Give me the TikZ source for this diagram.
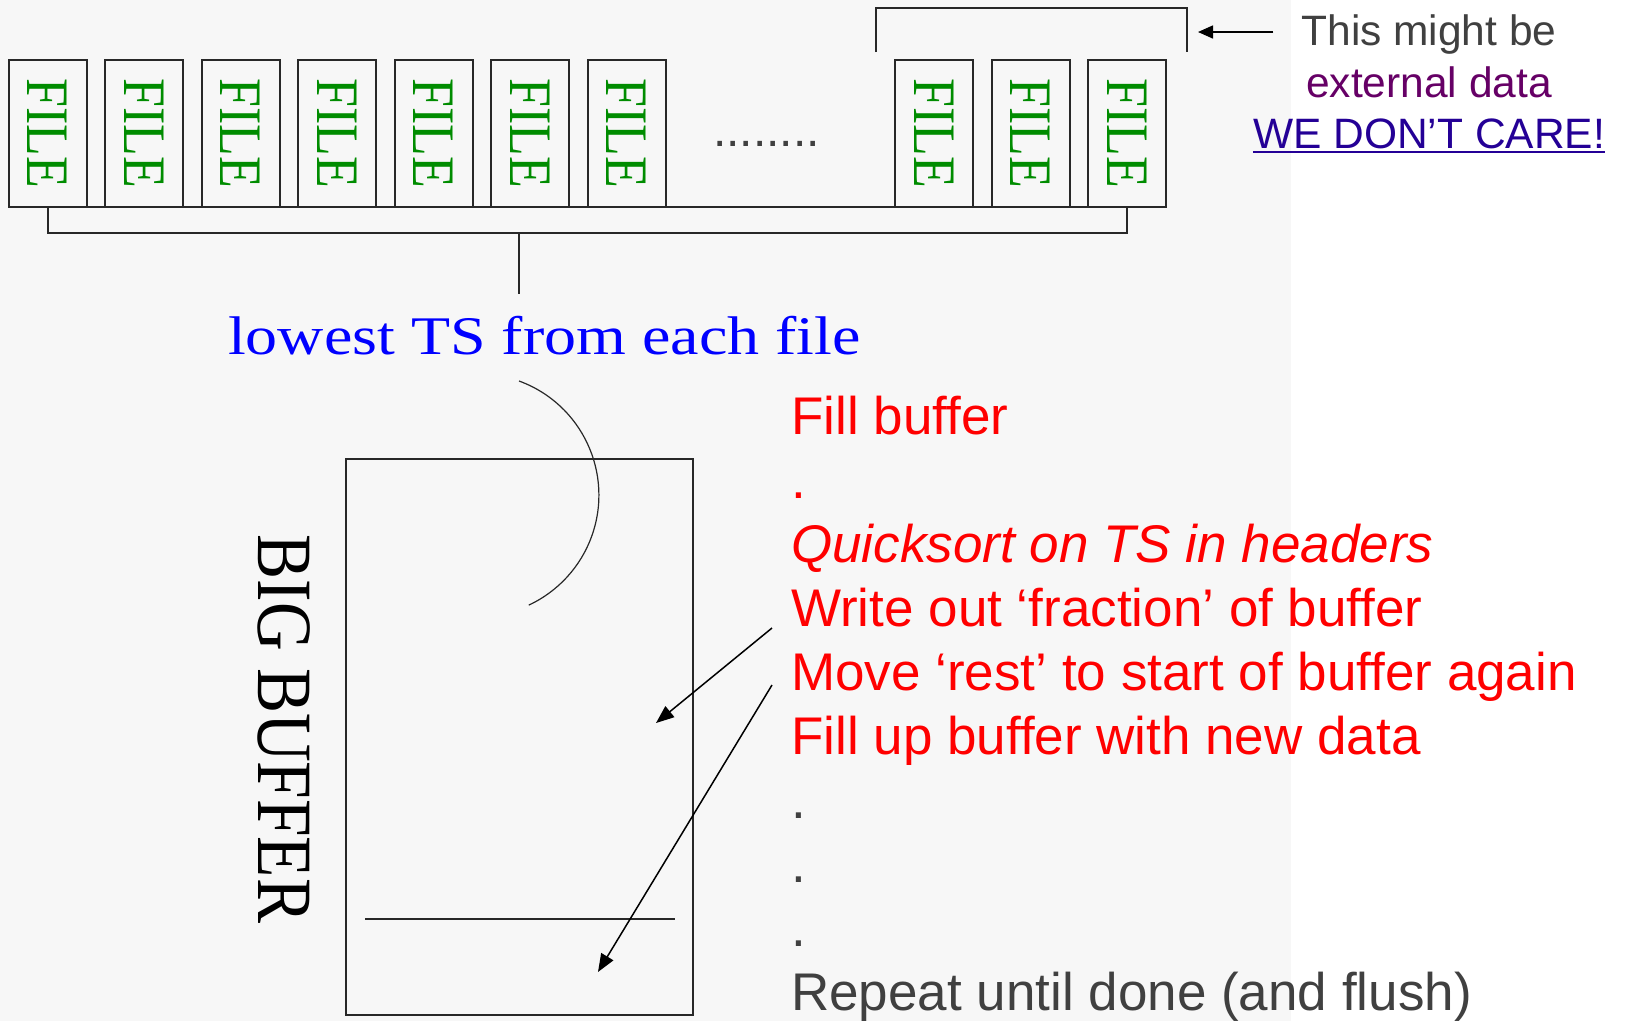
\documentclass[tikz,border=0pt]{standalone}
\usepackage{fontspec}
\setmainfont{Liberation Sans}
\newfontfamily\seriffont{Liberation Serif}
\usepackage{graphicx}
\usetikzlibrary{positioning,arrows.meta}

\definecolor{slidebg}{RGB}{247,247,247}
\definecolor{filegreen}{RGB}{0,140,0}
\definecolor{darktext}{RGB}{64,64,64}
\definecolor{extpurple}{RGB}{102,0,102}
\definecolor{careblue}{RGB}{36,0,150}
\definecolor{outline}{RGB}{40,40,40}

\newcommand{\filetext}{\rotatebox{-90}{\scalebox{1}[1.16]{FILE}}}

\tikzset{
  filebox/.style={draw=outline, line width=2pt, minimum width=78pt, minimum height=147pt,
    inner sep=0pt, outer sep=0pt, text=filegreen, font=\seriffont\fontsize{52}{52}\selectfont},
  bracket/.style={draw=outline, line width=2pt},
  pointer/.style={draw=black, line width=1.5pt, -{Triangle[length=18pt,width=14pt]}},
  stepline/.style={anchor=base west, inner sep=0pt, text=red, font=\fontsize{53}{64}\selectfont},
  note/.style={anchor=base, inner sep=0pt, font=\fontsize{42.5}{50}\selectfont},
}

\begin{document}
\begin{tikzpicture}[x=1pt, y=-1pt]
  \useasboundingbox (0,0) rectangle (1625,1021);
  \fill[white] (0,0) rectangle (1625,1021);
  \fill[slidebg] (0,0) rectangle (1291,1021);

  % the files
  \node[filebox] (file1) at (47.7,133.5) {\filetext};
  \foreach \i [evaluate=\i as \j using int(\i-1)] in {2,...,7}
    \node[filebox, right=18.5pt of file\j] (file\i) {\filetext};
  \node[darktext, anchor=base, inner sep=0pt, font=\fontsize{48}{48}\selectfont] (dots) at (766.5,146.5) {........};
  \node[filebox] (file8) at (934,133.5) {\filetext};
  \node[filebox, right=18.5pt of file8] (file9) {\filetext};
  \node[filebox, right=18.5pt of file9] (file10) {\filetext};

  \draw[bracket] (file1.south west) -- (file10.south east);
  \draw[bracket] (file1.south) -- ++(0,26) -| (file10.south);
  \coordinate (merge) at (519,233);
  \coordinate (mergeend) at (519,294);
  \draw[bracket] (merge) -- (mergeend);

  % external data
  \coordinate (extL) at (876,52);
  \coordinate (extR) at (1187,52);
  \draw[bracket] (extL) |- (1187,8) -- (extR);
  \node[note, text=darktext] (this) at (1429,45) {This might be};
  \node[note, text=extpurple] (external) at (1429,97) {external data};
  \node[note, text=careblue] (care) at (1429,148) {WE DON’T CARE!};
  \draw[careblue, line width=2.5pt] ([yshift=-4pt]care.base west) -- ([yshift=-4pt]care.base east);
  \coordinate (exttip) at (1198,32);
  \draw[pointer, -{Triangle[length=15pt,width=13pt]}] ([xshift=-28pt]this.west |- exttip) -- (exttip);

  % buffer
  \node[blue, anchor=base, inner sep=0pt, font=\seriffont\fontsize{64}{64}\selectfont] (lowest)
    at (544.5,354) {\scalebox{1}[0.85]{lowest TS from each file}};
  \node[draw=outline, line width=2pt, minimum width=347pt, minimum height=556pt,
    inner sep=0pt, outer sep=0pt] (buffer) at (519.5,737) {};
  \node[rotate=-90, inner sep=0pt, font=\seriffont\fontsize{67.5}{67.5}\selectfont] (biglabel)
    at (284,729) {\scalebox{1}[1.16]{BIG BUFFER}};
  \draw[outline, line width=2pt] (365,919) -- (675,919);
  \coordinate (arcA) at (519,381);
  \draw[outline, line width=1.2pt] (arcA) arc[start angle=70, end angle=-65, radius=121.4pt];

  % steps
  \node[stepline] (fill) at (791,434) {Fill buffer};
  \node[stepline] (dotA) at (791,498) {.};
  \node[stepline, font=\fontsize{53}{64}\selectfont\itshape] (sort) at (791,562) {Quicksort on TS in headers};
  \node[stepline] (write) at (791,626) {Write out ‘fraction’ of buffer};
  \node[stepline] (move) at (791,690) {Move ‘rest’ to start of buffer again};
  \node[stepline] (refill) at (791,754) {Fill up buffer with new data};
  \node[stepline, text=darktext] (dotB) at (791,818) {.};
  \node[stepline, text=darktext] (dotC) at (791,882) {.};
  \node[stepline, text=darktext] (dotD) at (791,946) {.};
  \node[stepline, text=darktext] (repeat) at (791,1010) {Repeat until done (and flush)};

  \coordinate (fracspot) at (656,723);
  \coordinate (restspot) at (598,972);
  \draw[pointer] ([xshift=-19pt,yshift=-2pt]write.base west) -- (fracspot);
  \draw[pointer] ([xshift=-19pt,yshift=5pt]move.base west) -- (restspot);
\end{tikzpicture}
\end{document}
